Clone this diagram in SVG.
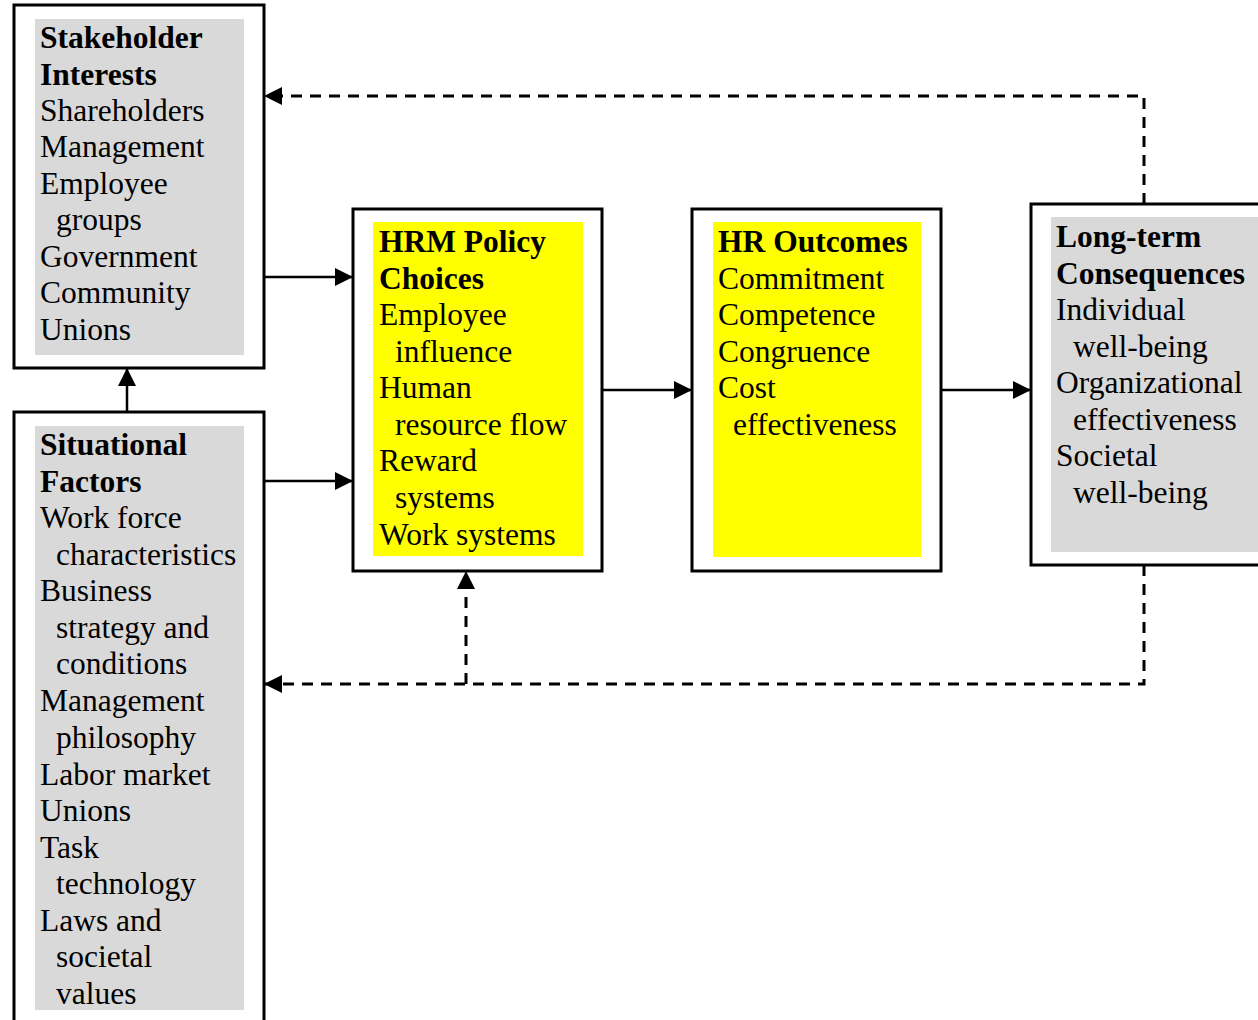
<svg xmlns="http://www.w3.org/2000/svg" width="1258" height="1020" viewBox="0 0 1258 1020">
<style>
.box{fill:#fff;stroke:#000;stroke-width:3}
.grey{fill:#d9d9d9}
.yel{fill:#ffff00}
text{font-family:"Liberation Serif","Times New Roman",serif;font-size:31.5px;fill:#000}
.b{font-weight:bold}
.ln{fill:none;stroke:#000;stroke-width:2.5}
.dash{stroke-dasharray:11 8;stroke-width:3}
</style>
<defs>
<marker id="ah" markerWidth="18" markerHeight="18" refX="18" refY="9" orient="auto" markerUnits="userSpaceOnUse">
<path d="M0,0 L18,9 L0,18 Z" fill="#000"/>
</marker>
</defs>
<rect width="1258" height="1020" fill="#fff"/>
<g id="stakeholder">
<rect class="box" x="14" y="5" width="250" height="363"/>
<rect class="grey" x="35" y="19" width="209" height="336"/>
<text x="40" y="48" class="b">Stakeholder</text>
<text x="40" y="85" class="b">Interests</text>
<text x="40" y="121">Shareholders</text>
<text x="40" y="157">Management</text>
<text x="40" y="194">Employee</text>
<text x="56" y="230">groups</text>
<text x="40" y="267">Government</text>
<text x="40" y="303">Community</text>
<text x="40" y="340">Unions</text>
</g>
<g id="situational">
<rect class="box" x="14" y="412" width="250" height="620"/>
<rect class="grey" x="35" y="426" width="209" height="584"/>
<text x="40" y="455" class="b">Situational</text>
<text x="40" y="492" class="b">Factors</text>
<text x="40" y="528">Work force</text>
<text x="56" y="565">characteristics</text>
<text x="40" y="601">Business</text>
<text x="56" y="638">strategy and</text>
<text x="56" y="674">conditions</text>
<text x="40" y="711">Management</text>
<text x="56" y="748">philosophy</text>
<text x="40" y="785">Labor market</text>
<text x="40" y="821">Unions</text>
<text x="40" y="858">Task</text>
<text x="56" y="894">technology</text>
<text x="40" y="931">Laws and</text>
<text x="56" y="967">societal</text>
<text x="56" y="1004">values</text>
</g>
<g id="hrm">
<rect class="box" x="353" y="209" width="249" height="362"/>
<rect class="yel" x="373" y="222" width="210" height="334"/>
<text x="379" y="252" class="b">HRM Policy</text>
<text x="379" y="289" class="b">Choices</text>
<text x="379" y="325">Employee</text>
<text x="395" y="362">influence</text>
<text x="379" y="398">Human</text>
<text x="395" y="435">resource flow</text>
<text x="379" y="471">Reward</text>
<text x="395" y="508">systems</text>
<text x="379" y="545">Work systems</text>
</g>
<g id="outcomes">
<rect class="box" x="692" y="209" width="249" height="362"/>
<rect class="yel" x="713" y="222" width="208" height="335"/>
<text x="718" y="252" class="b">HR Outcomes</text>
<text x="718" y="289">Commitment</text>
<text x="718" y="325">Competence</text>
<text x="718" y="362">Congruence</text>
<text x="718" y="398">Cost</text>
<text x="733" y="435">effectiveness</text>
</g>
<g id="consequences">
<rect class="box" x="1031" y="204" width="240" height="361"/>
<rect class="grey" x="1051" y="217" width="220" height="335"/>
<text x="1056" y="247" class="b">Long-term</text>
<text x="1056" y="284" class="b">Consequences</text>
<text x="1056" y="320">Individual</text>
<text x="1073" y="357">well-being</text>
<text x="1056" y="393">Organizational</text>
<text x="1073" y="430">effectiveness</text>
<text x="1056" y="466">Societal</text>
<text x="1073" y="503">well-being</text>
</g>
<g id="connectors">
<line class="ln" x1="264" y1="277" x2="353" y2="277" marker-end="url(#ah)"/>
<line class="ln" x1="264" y1="481" x2="353" y2="481" marker-end="url(#ah)"/>
<line class="ln" x1="127" y1="412" x2="127" y2="368" marker-end="url(#ah)"/>
<line class="ln" x1="602" y1="390" x2="692" y2="390" marker-end="url(#ah)"/>
<line class="ln" x1="941" y1="390" x2="1031" y2="390" marker-end="url(#ah)"/>
<polyline class="ln dash" points="1144,204 1144,96 264,96" marker-end="url(#ah)"/>
<polyline class="ln dash" points="1144,565 1144,684 264,684" marker-end="url(#ah)"/>
<polyline class="ln dash" points="466,684 466,571" marker-end="url(#ah)"/>
</g>
</svg>
